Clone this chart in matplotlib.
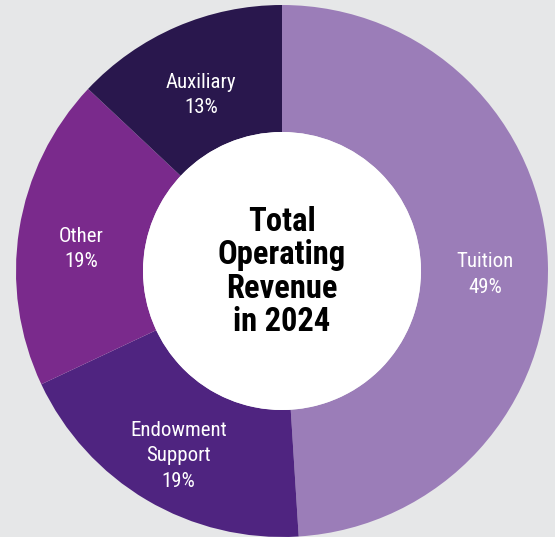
import matplotlib
matplotlib.use("Agg")
import matplotlib.pyplot as plt
from matplotlib import font_manager
from matplotlib.patches import Circle
import numpy as np

categories = ["Tuition", "Endowment\nSupport", "Other", "Auxiliary"]
values = [49, 19, 19, 13]
colors = ["#9b7db8", "#4f2480", "#7a2a8c", "#29174d"]
center_title = "Total\nOperating\nRevenue\nin 2024"

fonts = font_manager.fontManager.ttflist
names = sorted({f.name for f in fonts})
cands = [n for n in names if ("Condensed" in n or "Narrow" in n)]


def has_bold(name):
    return any(f.name == name and (f.weight in ("bold", 700, "700") or
               (isinstance(f.weight, int) and f.weight >= 700)) for f in fonts)


pref = ["Roboto Condensed", "Liberation Sans Narrow", "Open Sans Condensed"]
ordered = [p for p in pref if p in cands] + [c for c in cands if c not in pref]
bold_ok = [c for c in ordered if has_bold(c)]
narrow = ordered[0] if ordered else "Roboto"
narrow_bold = bold_ok[0] if bold_ok else narrow

W, H = 555, 537
fig = plt.figure(figsize=(W / 100, H / 100), dpi=100)
fig.patch.set_facecolor("#e6e7e8")
ax = fig.add_axes([0, 0, 1, 1])

cx, cy, R, r_in = 282, H - 271, 266, 139
wedges, _ = ax.pie(values, colors=colors, startangle=90, counterclock=False,
                   center=(cx, cy), radius=R, frame=True,
                   wedgeprops=dict(width=R - r_in, linewidth=0))
ax.add_patch(Circle((cx, cy), r_in, facecolor="white", edgecolor="none", zorder=3))
ax.set_xlim(0, W)
ax.set_ylim(0, H)
ax.set_aspect("equal")
ax.axis("off")

rl = 203
for w, cat, v in zip(wedges, categories, values):
    mid = np.deg2rad((w.theta1 + w.theta2) / 2)
    x = cx + rl * np.cos(mid)
    y = cy + rl * np.sin(mid) - 10
    ax.text(x, y, f"{cat}\n{v}%", ha="center", va="center", color="white",
            fontsize=15, family=narrow, fontweight="normal", linespacing=1.42, zorder=4)

ax.text(cx, cy - 1, center_title, ha="center", va="center", color="black",
        fontsize=23.5, family=narrow_bold, fontweight="bold", linespacing=1.05, zorder=4)

fig.savefig("out.png", dpi=100, facecolor=fig.get_facecolor())
